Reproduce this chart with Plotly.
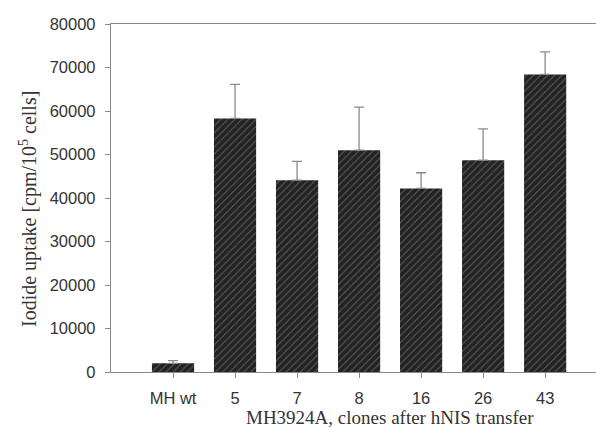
import plotly.graph_objects as go

categories = ["MH wt", "5", "7", "8", "16", "26", "43"]
uptake = [2000, 58300, 44100, 51000, 42200, 48700, 68400]
err_up = [600, 7800, 4300, 9900, 3600, 7200, 5200]
y_ticks = [0, 10000, 20000, 30000, 40000, 50000, 60000, 70000, 80000]
x_title = "MH3924A, clones after hNIS transfer"
y_title = "Iodide uptake [cpm/10<sup>5</sup> cells]"

x_idx = list(range(len(categories)))

fig = go.Figure()
fig.add_trace(go.Bar(
    x=x_idx, y=uptake, width=0.68,
    marker=dict(color="#222222", line=dict(width=0),
                pattern=dict(shape="/", fgcolor="#8a8a8a", bgcolor="#222222",
                             size=5, solidity=0.22)),
    error_y=dict(type="data", symmetric=False, array=err_up, arrayminus=[0]*len(err_up),
                 color="#8a8a8a", thickness=1.3, width=5),
))

fig.update_layout(
    width=596, height=428,
    margin=dict(l=111, r=0, t=24, b=56),
    plot_bgcolor="white", paper_bgcolor="white",
    showlegend=False, bargap=0.3,
    font=dict(family="Liberation Sans, Arial", size=16.5, color="#333"),
)
fig.update_xaxes(
    range=[-1, 6.82], tickmode="array", tickvals=x_idx, ticktext=categories,
    showline=True, linecolor="#8a8a8a", linewidth=1.3, mirror=True,
    ticks="outside", ticklen=5, tickcolor="#8a8a8a", showgrid=False, zeroline=False,
    ticklabelstandoff=6, automargin=False,
)
fig.update_yaxes(
    range=[0, 80000], tickmode="array", tickvals=y_ticks, ticktext=[str(v) for v in y_ticks],
    showline=True, linecolor="#8a8a8a", linewidth=1.3, mirror=False,
    ticks="outside", ticklen=5, tickcolor="#8a8a8a", showgrid=False, zeroline=False,
    ticklabelstandoff=6, automargin=False,
)
fig.add_annotation(
    text=x_title, xref="paper", yref="paper", x=0.5, y=0, xshift=36, yshift=-34,
    xanchor="center", yanchor="top", showarrow=False, borderpad=0,
    font=dict(family="Liberation Serif, Times New Roman", size=19, color="#333"),
)
fig.add_annotation(
    text=y_title, xref="paper", yref="paper", x=0, y=0.5, xshift=-83, yshift=-11,
    xanchor="center", yanchor="middle", showarrow=False, textangle=-90,
    font=dict(family="Liberation Serif, Times New Roman", size=20, color="#333"),
)

fig.write_html("out.html")
